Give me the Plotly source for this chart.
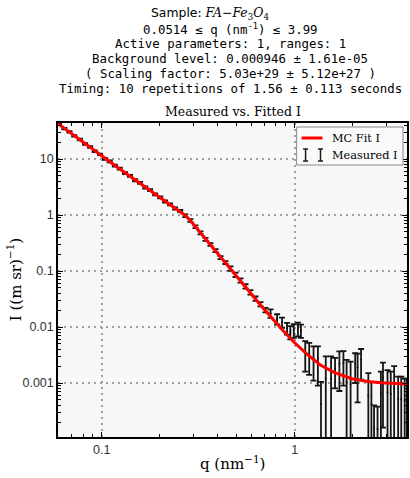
import plotly.graph_objects as go

# ---------------- data ----------------
q_fit = [0.059, 0.065, 0.07, 0.08, 0.09, 0.1, 0.12, 0.15, 0.18, 0.2, 0.224, 0.24, 0.255, 0.27,
         0.285, 0.3, 0.32, 0.346, 0.4, 0.45, 0.5, 0.55, 0.6, 0.65, 0.7, 0.78, 0.877, 1.0, 1.15,
         1.36, 1.6, 2.0, 2.4, 2.8, 3.3, 3.9]
I_fit = [43.4, 33.9, 28.1, 20.0, 14.8, 11.3, 7.21, 4.17, 2.66, 2.05, 1.56, 1.34, 1.16, 0.99,
         0.83, 0.67, 0.5, 0.37, 0.202, 0.124, 0.0798, 0.0538, 0.0376, 0.0272, 0.0202, 0.0131,
         0.0084, 0.00524, 0.00334, 0.0021, 0.00155, 0.00118, 0.00106, 0.00101, 0.00098, 0.00096]

q_meas = [0.060, 0.064, 0.068, 0.072, 0.077, 0.082, 0.087, 0.092, 0.098,
          0.104, 0.110, 0.117, 0.124, 0.132, 0.140, 0.149, 0.158, 0.168, 0.178, 0.189, 0.201,
          0.213, 0.226, 0.240, 0.255,
          0.271, 0.288, 0.306, 0.325, 0.345, 0.366, 0.389, 0.413, 0.438,
          0.465, 0.494, 0.524, 0.556, 0.590, 0.627, 0.665, 0.706,
          0.75, 0.811, 0.86, 0.913, 0.95, 0.99, 1.04, 1.078, 1.135, 1.19, 1.253, 1.32,
          1.37, 1.45, 1.545, 1.62, 1.706, 1.79, 1.86, 1.95, 2.06, 2.12, 2.21,
          2.41, 2.5, 2.58, 2.69, 2.80, 2.87, 3.03, 3.15, 3.28, 3.44, 3.57, 3.72, 3.82]
I_meas = [42.0, 34.8, 30.6, 25.8, 22.3, 18.5, 16.4, 13.8, 12.1,
          10.1, 9.05, 7.6, 6.75, 5.62, 5.02, 4.18, 3.74, 3.1, 2.79, 2.33, 2.07,
          1.74, 1.55, 1.31, 1.18,
          0.97, 0.8, 0.62, 0.48, 0.368, 0.298, 0.232, 0.174, 0.142,
          0.111, 0.086, 0.068, 0.0532, 0.0418, 0.0322, 0.0256, 0.0201,
          0.0176, 0.014, 0.0122, 0.0096, 0.0082, 0.0088, 0.0094, 0.0087, 0.0036, 0.0033, 0.0028, 0.0027,
          0.00042, 0.0012, 0.0012, 0.0018, 0.0022, 0.0023, 0.00104, 0.00096, 0.0022, 0.0019, 0.0026,
          0.0006, 0.00042, 0.00016, 0.00015, 0.00064, 0.00124, 0.00068, 0.00064, 0.0008, 0.00052,
          0.00052, 0.00048, 0.00048]
I_err = [1.3, 1.0, 0.9, 0.8, 0.7, 0.6, 0.5, 0.45, 0.4,
         0.40, 0.36, 0.30, 0.27, 0.22, 0.20, 0.17, 0.15, 0.13, 0.11, 0.095, 0.085,
         0.075, 0.065, 0.058, 0.05,
         0.057, 0.046, 0.035, 0.029, 0.022, 0.018, 0.014, 0.0105, 0.0085,
         0.010, 0.0078, 0.0061, 0.0048, 0.0038, 0.0029, 0.0023, 0.0018,
         0.003, 0.0029, 0.0025, 0.0023, 0.0022, 0.0024, 0.0026, 0.0023, 0.002, 0.0019, 0.0017, 0.0018,
         0.00063, 0.0018, 0.0018, 0.001, 0.00148, 0.0014, 0.00156, 0.00144, 0.0012, 0.00145, 0.00145,
         0.0009, 0.00063, 0.00024, 0.00023, 0.00096, 0.00108, 0.00102, 0.00096, 0.0012, 0.00078,
         0.00078, 0.00072, 0.00072]

x_tickvals = [0.1, 1]
x_ticktext = ["0.1", "1"]
y_tickvals = [0.001, 0.01, 0.1, 1, 10]
y_ticktext = ["0.001", "0.01", "0.1", "1", "10"]
x_minor = [0.06, 0.07, 0.08, 0.09, 0.2, 0.3, 0.4, 0.5, 0.6, 0.7, 0.8, 0.9, 2, 3]
y_minor = [m * d for d in (0.0001, 0.001, 0.01, 0.1, 1, 10) for m in range(2, 10)]

title_lines = [
    "0.0514 ≤ q (nm<sup>-1</sup>) ≤ 3.99",
    "Active parameters: 1, ranges: 1",
    "Background level: 0.000946 ± 1.61e-05",
    "( Scaling factor: 5.03e+29 ± 5.12e+27 )",
    "Timing: 10 repetitions of 1.56 ± 0.113 seconds",
]

# ---------------- figure ----------------
L, R, T, B = 58, 1, 123, 41
W, H = 410, 478
PH = H - T - B
PW = W - L - R
XR = [-1.2268, 0.5825]
YR = [-3.964, 1.643]


def py(pix):  # pixel y -> paper y
    return (H - B - pix) / PH


def px(pix):  # pixel x -> paper x
    return (pix - L) / PW


fig = go.Figure()

fig.add_trace(go.Scatter(
    x=q_meas, y=I_meas, mode="markers",
    marker=dict(size=2, color="#111"),
    error_y=dict(type="data", array=I_err, visible=True, color="#151515", thickness=1.8, width=3),
    showlegend=False,
))
fig.add_trace(go.Scatter(
    x=q_fit, y=I_fit, mode="lines", line=dict(color="#ff0000", width=3), showlegend=False,
))
# carrier trace for the minor-tick overlay axes (invisible)
fig.add_trace(go.Scatter(
    x=[q_fit[0]], y=[I_fit[0]], mode="markers", marker=dict(opacity=0),
    xaxis="x2", yaxis="y2", showlegend=False, hoverinfo="skip",
))

axis_common = dict(
    showline=True, linecolor="black", linewidth=1.5, mirror="allticks",
    ticks="inside", ticklen=5, tickwidth=1.2, tickcolor="black",
    showgrid=True, gridcolor="#a0a0a0", gridwidth=1.5, griddash="2px,4px",
    zeroline=False,
    tickfont=dict(family="Liberation Sans", size=12.5, color="#333"),
)
minor_common = dict(
    type="log", showline=False, mirror="allticks", ticks="inside", ticklen=3, tickwidth=1,
    tickcolor="black", showgrid=False, zeroline=False, showticklabels=False,
)

fig.update_layout(
    xaxis=dict(type="log", range=XR, tickvals=x_tickvals, ticktext=x_ticktext, **axis_common),
    yaxis=dict(type="log", range=YR, tickvals=y_tickvals, ticktext=y_ticktext, **axis_common),
    xaxis2=dict(range=XR, tickvals=x_minor, overlaying="x", anchor="y2", **minor_common),
    yaxis2=dict(range=YR, tickvals=y_minor, overlaying="y", anchor="x2", **minor_common),
)

annotations = []
annotations.append(dict(
    x=px(211), y=py(14), xref="paper", yref="paper", showarrow=False,
    text=("<span style='font-family:DejaVu Sans'>Sample</span>"
          "<span style='font-family:DejaVu Serif'>: <i>FA</i>−<i>Fe</i><sub>3</sub><i>O</i><sub>4</sub></span>"),
    font=dict(family="DejaVu Sans", size=12.4, color="black"), xanchor="center", yanchor="middle",
))
for i, line in enumerate(title_lines):
    annotations.append(dict(
        x=px(231), y=py(29 + 14.8 * i), xref="paper", yref="paper", showarrow=False,
        text=line, font=dict(family="DejaVu Sans Mono", size=12.4, color="black"),
        xanchor="center", yanchor="middle",
    ))
annotations.append(dict(
    x=0.5, y=py(111), xref="paper", yref="paper", showarrow=False,
    text="Measured vs. Fitted I", font=dict(family="DejaVu Serif", size=12.5, color="black"),
    xanchor="center", yanchor="middle",
))
annotations.append(dict(
    x=0.5, y=py(463), xref="paper", yref="paper", showarrow=False,
    text="q (nm<sup>−1</sup>)", font=dict(family="DejaVu Serif", size=15, color="black"),
    xanchor="center", yanchor="middle",
))
annotations.append(dict(
    x=px(14), y=0.5, xref="paper", yref="paper", showarrow=False, textangle=-90,
    text="I ((m sr)<sup>−1</sup>)", font=dict(family="DejaVu Serif", size=15, color="black"),
    xanchor="center", yanchor="middle",
))
# legend text
annotations.append(dict(
    x=px(332), y=py(138), xref="paper", yref="paper", showarrow=False,
    text="MC Fit I", font=dict(family="DejaVu Serif", size=11.3, color="black"),
    xanchor="left", yanchor="middle",
))
annotations.append(dict(
    x=px(332), y=py(155), xref="paper", yref="paper", showarrow=False,
    text="Measured I", font=dict(family="DejaVu Serif", size=11.3, color="black"),
    xanchor="left", yanchor="middle",
))

shapes = []
# legend box
shapes.append(dict(type="rect", xref="paper", yref="paper",
                   x0=px(298), x1=px(405), y0=py(165), y1=py(127),
                   line=dict(color="#888", width=1), fillcolor="rgba(250,250,250,0.9)", layer="above"))
shapes.append(dict(type="line", xref="paper", yref="paper",
                   x0=px(303), x1=px(324), y0=py(138), y1=py(138),
                   line=dict(color="#ff0000", width=3), layer="above"))
for xs in (307, 322):
    shapes.append(dict(type="line", xref="paper", yref="paper",
                       x0=px(xs), x1=px(xs), y0=py(161), y1=py(149),
                       line=dict(color="#1a1a1a", width=1.5), layer="above"))
    for yy in (149, 161):
        shapes.append(dict(type="line", xref="paper", yref="paper",
                           x0=px(xs - 2.5), x1=px(xs + 2.5), y0=py(yy), y1=py(yy),
                           line=dict(color="#1a1a1a", width=1.5), layer="above"))

fig.update_layout(
    width=W, height=H, margin=dict(l=L, r=R, t=T, b=B),
    paper_bgcolor="white", plot_bgcolor="#f7f7f7",
    annotations=annotations, shapes=shapes, showlegend=False,
)

fig.write_html("out.html")
